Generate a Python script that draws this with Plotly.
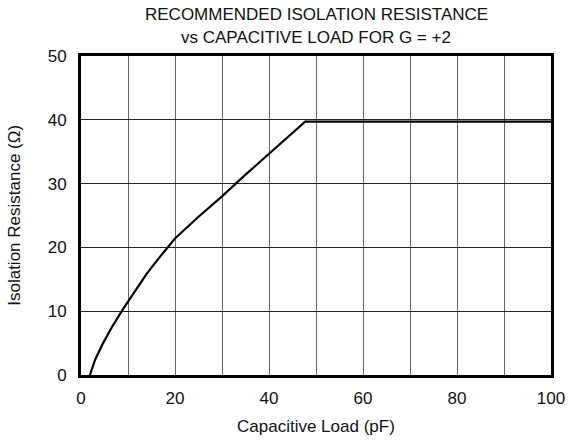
import plotly.graph_objects as go

cap_load_pf = [1.9, 3.0, 4.7, 6.5, 9.0, 11.5, 14.0, 17.0, 20.0, 25.0, 30.0, 35.0, 40.0, 44.0, 47.7, 60.0, 80.0, 100.0]
iso_res_ohm = [0.0, 2.4, 5.0, 7.4, 10.4, 13.2, 15.9, 18.7, 21.4, 24.8, 28.0, 31.4, 34.7, 37.3, 39.7, 39.7, 39.7, 39.7]

x_ticks = [0, 20, 40, 60, 80, 100]
y_ticks = [0, 10, 20, 30, 40, 50]

title_lines = ["RECOMMENDED ISOLATION RESISTANCE", "vs CAPACITIVE LOAD FOR G = +2"]

fig = go.Figure()
fig.add_trace(go.Scatter(x=cap_load_pf, y=iso_res_ohm, mode="lines",
                         line=dict(color="black", width=2.2), showlegend=False))

font = "Liberation Sans, Arial, sans-serif"
fig.update_layout(
    width=571, height=443,
    margin=dict(l=81, r=20, t=56, b=68, autoexpand=False),
    paper_bgcolor="white", plot_bgcolor="white",
    font=dict(family=font, size=17, color="black"),
)
ann = dict(xref="paper", yref="paper", showarrow=False, font=dict(family=font, size=17, color="#111111"))
fig.add_annotation(text=title_lines[0], x=0.5, y=1.130, xanchor="center", yanchor="middle", **ann)
fig.add_annotation(text=title_lines[1], x=0.5, y=1.057, xanchor="center", yanchor="middle", **ann)
fig.add_annotation(text="Capacitive Load (pF)", x=0.5, y=-0.160, xanchor="center", yanchor="middle", **ann)
fig.add_annotation(text="Isolation Resistance (Ω)", x=-0.142, y=0.5, xanchor="center", yanchor="middle",
                   textangle=-90, **ann)

fig.update_xaxes(range=[0, 100], tickvals=x_ticks,
                 showgrid=True, gridcolor="#666666", gridwidth=1,
                 showline=True, linecolor="black", linewidth=3, mirror=True,
                 ticks="", zeroline=False, automargin=False, ticklabelstandoff=6,
                 tickfont=dict(size=17, color="#111111"))
fig.update_xaxes(minor=dict(showgrid=True, gridcolor="#666666", gridwidth=1, dtick=10, tick0=0))
fig.update_yaxes(range=[0, 50], tickvals=y_ticks,
                 showgrid=True, gridcolor="#222222", gridwidth=1,
                 showline=True, linecolor="black", linewidth=3, mirror=True,
                 ticks="", zeroline=False, automargin=False, ticklabelstandoff=8,
                 tickfont=dict(size=17, color="#111111"))
fig.write_html("out.html", config={"displayModeBar": False},
               post_script="document.body.style.margin='0';document.body.style.overflow='hidden';")
